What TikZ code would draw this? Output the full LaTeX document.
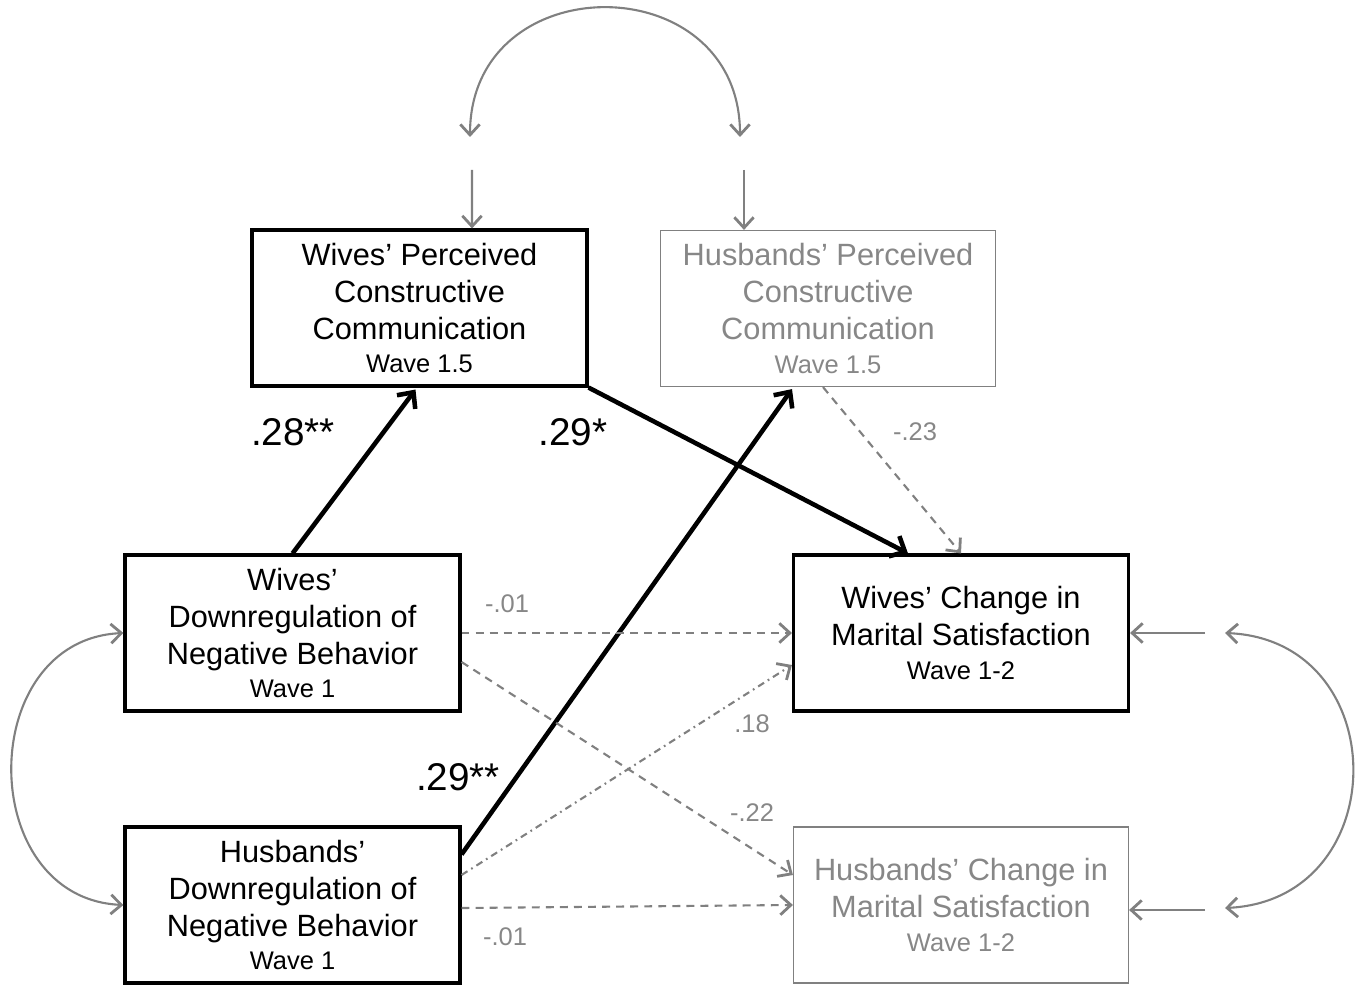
\documentclass[tikz,border=0pt]{standalone}
\usepackage{fontspec}
\setmainfont{Liberation Sans}
\usetikzlibrary{positioning, arrows.meta, calc}
\definecolor{grisline}{RGB}{128,128,128}
\definecolor{gristext}{RGB}{135,135,135}
\newcommand{\wavetxt}[1]{\\[-2pt]{\fontsize{14.5}{17}\selectfont #1}}
\tikzset{
    varbox/.style={draw, line width=1.8pt, minimum width=6.7cm, minimum height=3.12cm, align=center, inner sep=0pt, font=\fontsize{17.5}{21}\selectfont, execute at begin node={\rule{0pt}{23pt}}},
    faintbox/.style={varbox, draw=grisline, line width=0.7pt, text=gristext},
    sig/.style={line width=2.6pt, -{Straight Barb[length=7pt,width=13pt]}},
    nsig/.style={grisline, line width=1.2pt, dash pattern=on 4.5pt off 3.5pt, -{Straight Barb[length=6pt,width=11pt,line width=1.6pt]}},
    nsigdot/.style={nsig, dash pattern=on 4pt off 2.5pt on 1pt off 2.5pt},
    err/.style={grisline, line width=1.2pt, -{Straight Barb[length=6pt,width=11pt,line width=1.6pt]}},
    corr/.style={grisline, line width=1.2pt, {Straight Barb[length=6pt,width=11pt,line width=1.6pt]}-{Straight Barb[length=6pt,width=11pt,line width=1.6pt]}},
    coefbig/.style={font=\fontsize{22}{24}\selectfont},
    coefsmall/.style={text=gristext, font=\fontsize{14.5}{16}\selectfont},
}
\begin{document}
\begin{tikzpicture}[x=0.02cm, y=-0.02cm]
    \useasboundingbox (0,0) rectangle (1362,986);

    % boxes
    \node [varbox] (wpc) at (419.5,308) {Wives' Perceived\\Constructive\\Communication\wavetxt{Wave 1.5}};
    \node [faintbox] (hpc) at (828,308.5) {Husbands' Perceived\\Constructive\\Communication\wavetxt{Wave 1.5}};
    \node [varbox] (wdr) at (292.5,633) {Wives'\\Downregulation of\\Negative Behavior\wavetxt{Wave 1}};
    \node [varbox] (hdr) at (292.5,905) {Husbands'\\Downregulation of\\Negative Behavior\wavetxt{Wave 1}};
    \node [varbox] (wcs) at (961,633) {Wives' Change in\\Marital Satisfaction\wavetxt{Wave 1-2}};
    \node [faintbox] (hcs) at (961,905) {Husbands' Change in\\Marital Satisfaction\wavetxt{Wave 1-2}};

    % error terms
    \coordinate (ewpc) at (472,170);
    \coordinate (ehpc) at (744,170);
    \coordinate (ewcs) at (1205,633);
    \coordinate (ehcs) at (1205,910);
    \draw[err] (ewpc) -- ($(wpc.north)+(52.5,0)$);
    \draw[err] (ehpc) -- ($(hpc.north)+(-84,0)$);
    \draw[err] (ewcs) -- (wcs.east);
    \draw[err] (ehcs) -- ($(hcs.east)+(0,5)$);

    % correlations
    \coordinate (ctl) at (470,137);
    \coordinate (ctr) at (740,137);
    \coordinate (crt) at (1225,633);
    \coordinate (crb) at (1225,908);
    \draw[corr] (ctl) .. controls (470,-35) and (740,-35) .. (ctr);
    \draw[corr] (crt) .. controls (1395,640) and (1395,900) .. (crb);
    \draw[corr] (wdr.west) .. controls (-25,640) and (-25,898) .. (hdr.west);

    % significant paths
    \draw[sig] (wdr.north) -- ($(wpc.south)+(-4,2)$);
    \draw[sig] (wpc.south east) -- ($(wcs.north)+(-53,0)$);
    \draw[sig] ($(hdr.north east)+(0,29)$) -- ($(hpc.south)+(-36,2)$);

    % non significant paths
    \draw[nsig] ($(hpc.south)+(-5,0)$) -- (wcs.north);
    \draw[nsig] (wdr.east) -- (wcs.west);
    \draw[nsig] ($(wdr.east)+(0,29)$) -- ($(hcs.west)+(0,-30)$);
    \draw[nsigdot] ($(hdr.east)+(0,-30)$) -- ($(wcs.west)+(0,32)$);
    \draw[nsig] ($(hdr.east)+(0,3)$) -- ($(hcs.west)+(0,0)$);

    % coefficients
    \node[coefbig] (b1) at (293,432) {.28**};
    \node[coefbig] (b2) at (573,432) {.29*};
    \node[coefbig] (b3) at (458,777) {.29**};
    \node[coefsmall] (b4) at (915,432) {-.23};
    \node[coefsmall] (b5) at (507,604) {-.01};
    \node[coefsmall] (b6) at (752,724) {.18};
    \node[coefsmall] (b7) at (752,813) {-.22};
    \node[coefsmall] (b8) at (505,937) {-.01};
\end{tikzpicture}
\end{document}
